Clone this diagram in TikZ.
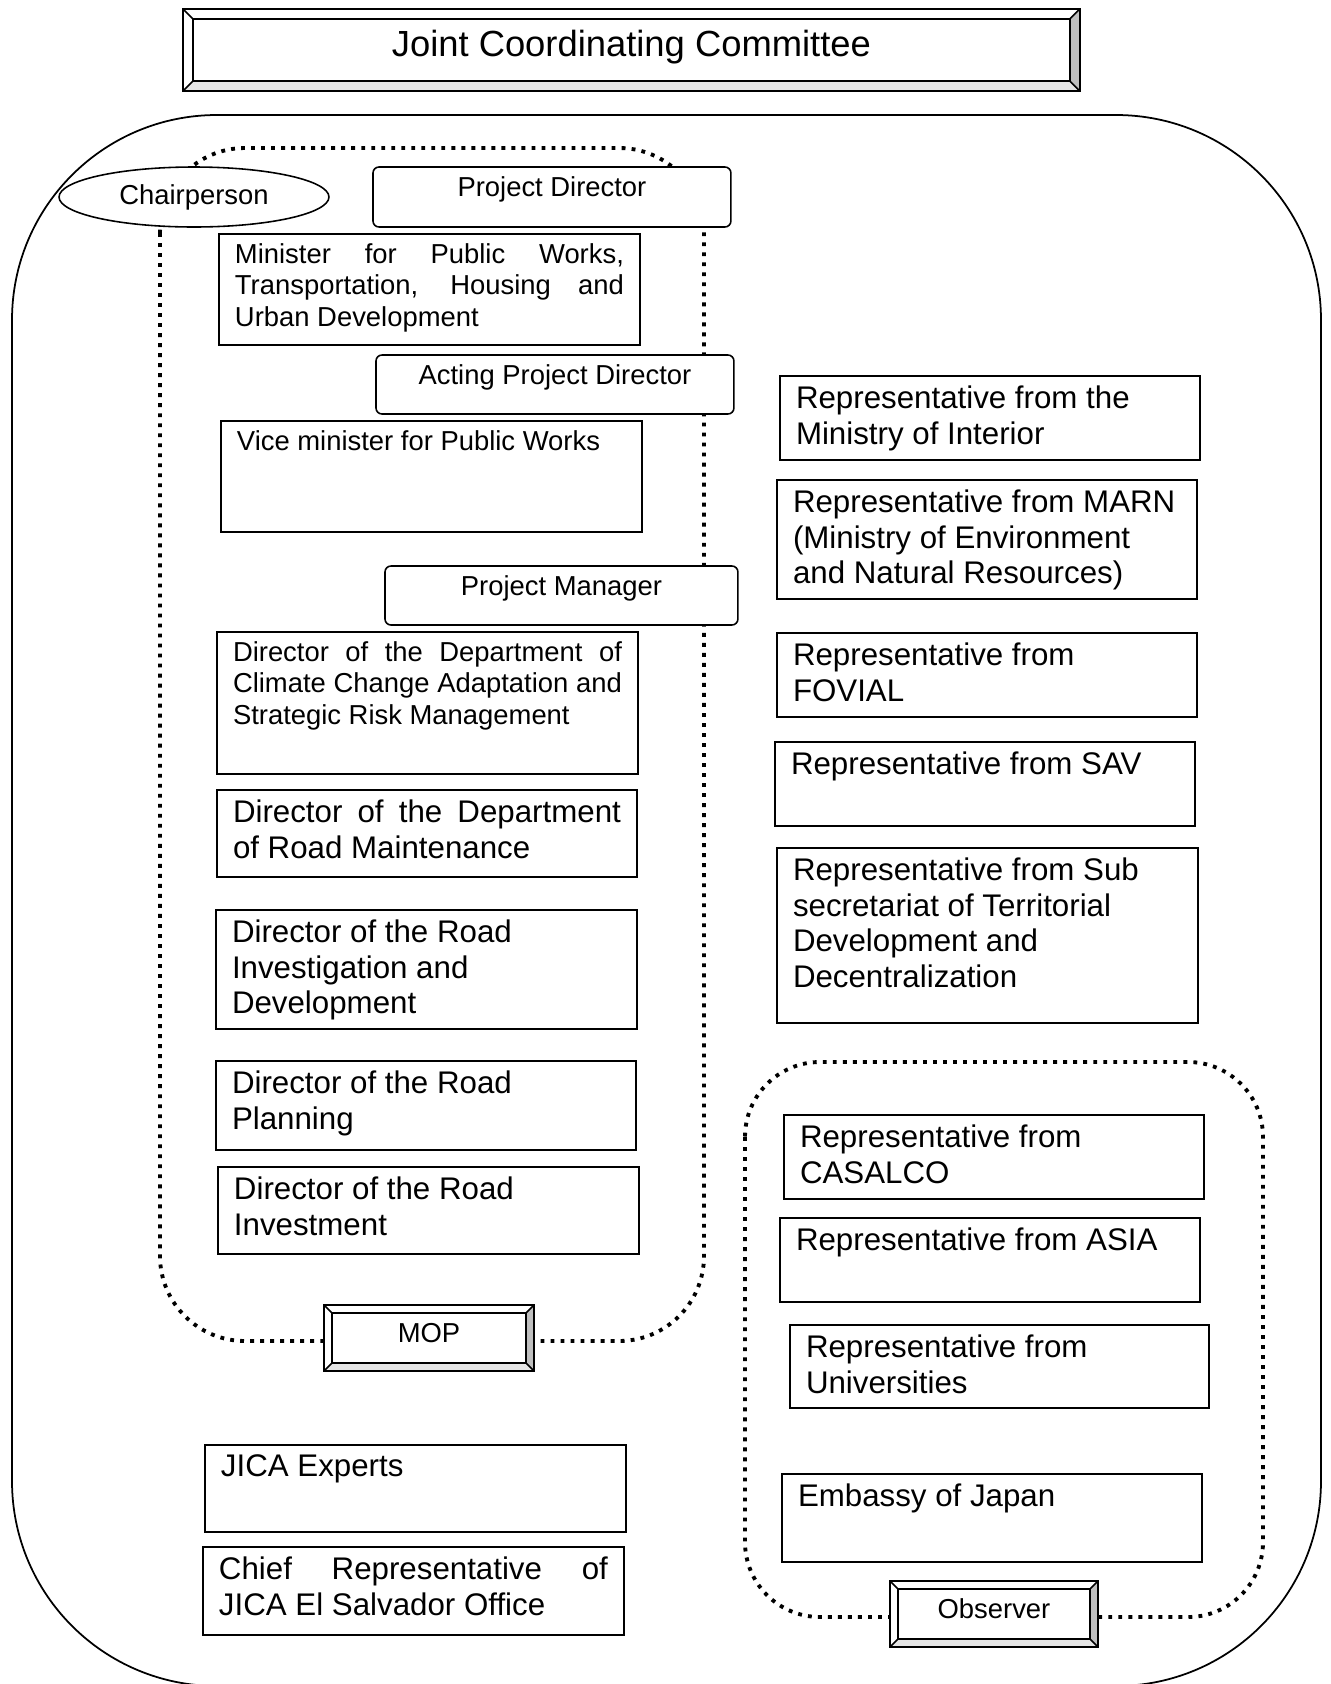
\documentclass[tikz,border=0pt]{standalone}
\usepackage{fontspec}
\setmainfont{Liberation Sans}
\usetikzlibrary{shapes.geometric}

\newcommand{\smallfnt}{\fontsize{15.6}{17.7}\selectfont}
\newcommand{\largefnt}{\fontsize{17.8}{20.2}\selectfont}
\newcommand{\boxtext}[3]{\parbox[t][#2][t]{#1}{#3}}
\newcommand{\fullline}[1]{\makebox[\linewidth][s]{#1}\\}
% raised frame round a named node, #2 = depth of the rim
\newcommand{\bevelrim}[2]{%
  \fill[gray!50] (#1.north east) -- (#1.south east) -- ([shift={(-#2,#2)}]#1.south east) -- ([shift={(-#2,-#2)}]#1.north east) -- cycle;
  \fill[gray!20] (#1.south west) -- (#1.south east) -- ([shift={(-#2,#2)}]#1.south east) -- ([shift={(#2,#2)}]#1.south west) -- cycle;
  \draw (#1.north west) rectangle (#1.south east);
  \draw ([shift={(#2,-#2)}]#1.north west) rectangle ([shift={(-#2,#2)}]#1.south east);
  \draw (#1.north west) -- ++(#2,-#2) (#1.north east) -- ++(-#2,-#2)
        (#1.south west) -- ++(#2,#2) (#1.south east) -- ++(-#2,#2);
}

\begin{document}
\begin{tikzpicture}[x=0.02cm,y=-0.02cm,line width=0.9pt,
  box/.style={draw,fill=white,rectangle,anchor=north west,inner xsep=0.32cm,inner ysep=0.2cm,outer sep=0pt},
  head/.style={box,rounded corners=0.12cm},
  dots/.style={line width=2.2pt,dash pattern=on 2.2pt off 3.5pt},
  bevelbox/.style={draw,fill=white,rectangle,anchor=north west,inner sep=0pt,outer sep=0pt,align=center}]
\useasboundingbox (0,0) rectangle (1331,1684);
\clip (0,0) rectangle (1331,1684);

% committee frame and the two groups
\draw[line width=1pt,rounded corners=4.1cm] (12,115) rectangle (1321,1686);
\draw[dots,rounded corners=1.7cm] (160,148) rectangle (704,1341);
\draw[dots,rounded corners=1.5cm] (745,1062) rectangle (1263,1617);

\node[bevelbox,minimum width=17.94cm,minimum height=1.64cm,text height=15pt,text depth=8pt]
	(jcc) at (183,9) {\fontsize{20.7}{24}\selectfont Joint Coordinating Committee};

% MOP side
\node[ellipse,draw,fill=white,minimum width=5.4cm,minimum height=1.2cm,inner sep=0pt]
	(chair) at (194,197) {\smallfnt Chairperson};
\node[head]	(pd)	at (373,167)	{\boxtext{6.52cm}{0.8cm}{\centering\smallfnt Project Director}};
\node[box]	(mpw)	at (219,234)	{\boxtext{7.78cm}{1.82cm}{\smallfnt \fullline{Minister for Public Works,}\fullline{Transportation, Housing and}Urban Development}};
\node[head]	(apd)	at (376,355)	{\boxtext{6.52cm}{0.78cm}{\centering\smallfnt Acting Project Director}};
\node[box]	(vmpw)	at (221,421)	{\boxtext{7.78cm}{1.82cm}{\smallfnt Vice minister for Public Works}};
\node[head]	(pm)	at (385,566)	{\boxtext{6.42cm}{0.78cm}{\centering\smallfnt Project Manager}};
\node[box]	(d_cc)	at (217,632)	{\boxtext{7.78cm}{2.44cm}{\smallfnt \fullline{Director of the Department of}\fullline{Climate Change Adaptation and}Strategic Risk Management}};
\node[box]	(d_rm)	at (217,790)	{\boxtext{7.76cm}{1.34cm}{\largefnt \fullline{Director of the Department}of Road Maintenance}};
\node[box]	(d_ri)	at (216,910)	{\boxtext{7.78cm}{1.98cm}{\largefnt Director of the Road\\ Investigation and\\ Development}};
\node[box]	(d_rp)	at (216,1061)	{\boxtext{7.76cm}{1.38cm}{\largefnt Director of the Road\\ Planning}};
\node[box]	(d_rinv) at (218,1167)	{\boxtext{7.78cm}{1.34cm}{\largefnt Director of the Road\\ Investment}};
\node[bevelbox,minimum width=4.2cm,minimum height=1.32cm,text height=11pt,text depth=6pt]
	(mop) at (324,1305) {\smallfnt MOP};

% JICA
\node[box]	(jica)	at (205,1445)	{\boxtext{7.78cm}{1.34cm}{\largefnt JICA Experts}};
\node[box]	(jica_cr) at (203,1547)	{\boxtext{7.78cm}{1.36cm}{\largefnt \fullline{Chief Representative of}JICA El Salvador Office}};

% other members
\node[box]	(r_mi)	at (780,376)	{\boxtext{7.76cm}{1.28cm}{\largefnt \mbox{Representative from the}\\ Ministry of Interior}};
\node[box]	(r_marn) at (777,480)	{\boxtext{7.76cm}{1.98cm}{\largefnt \mbox{Representative from MARN}\\ \mbox{(Ministry of Environment}\\ and Natural Resources)}};
\node[box]	(r_fov)	at (777,633)	{\boxtext{7.76cm}{1.28cm}{\largefnt Representative from\\ FOVIAL}};
\node[box]	(r_sav)	at (775,742)	{\boxtext{7.76cm}{1.28cm}{\largefnt \mbox{Representative from SAV}}};
\node[box]	(r_sub)	at (777,848)	{\boxtext{7.78cm}{3.1cm}{\largefnt \mbox{Representative from Sub}\\ secretariat of Territorial\\ Development and\\ Decentralization}};

% observers
\node[box]	(r_cas)	at (784,1115)	{\boxtext{7.76cm}{1.28cm}{\largefnt Representative from\\ CASALCO}};
\node[box]	(r_asia) at (780,1218)	{\boxtext{7.76cm}{1.28cm}{\largefnt \mbox{Representative from ASIA}}};
\node[box]	(r_uni)	at (790,1325)	{\boxtext{7.74cm}{1.26cm}{\largefnt Representative from\\ Universities}};
\node[box]	(emb)	at (782,1474)	{\boxtext{7.76cm}{1.36cm}{\largefnt Embassy of Japan}};
\node[bevelbox,minimum width=4.16cm,minimum height=1.32cm,text height=11pt,text depth=6pt]
	(obs) at (890,1581) {\smallfnt Observer};

\bevelrim{jcc}{0.2cm}
\bevelrim{mop}{0.16cm}
\bevelrim{obs}{0.16cm}
\end{tikzpicture}
\end{document}
